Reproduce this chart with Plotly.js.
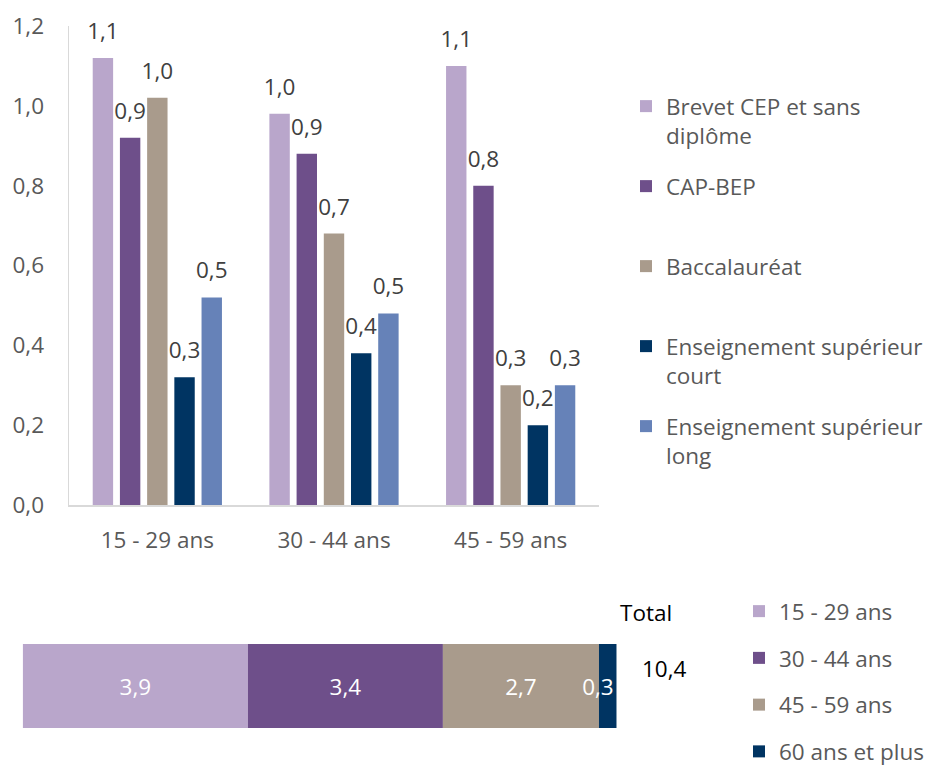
<!DOCTYPE html>
<html><head><meta charset="utf-8">
<script src="https://cdn.plot.ly/plotly-3.0.1.min.js"></script>
<style>html,body{margin:0;padding:0;background:#fff}#chart{width:930px;height:769px}</style>
</head><body><div id="chart"></div>
<script>
// ---- Data: top grouped bar chart ----
const ageGroups = ['15 - 29 ans', '30 - 44 ans', '45 - 59 ans'];
const seriesNames = ['Brevet CEP et sans<br>diplôme', 'CAP-BEP', 'Baccalauréat', 'Enseignement supérieur<br>court', 'Enseignement supérieur<br>long'];
const brevetValues = [1.12, 0.98, 1.10];
const capBepValues = [0.92, 0.88, 0.80];
const bacValues = [1.02, 0.68, 0.30];
const supCourtValues = [0.32, 0.38, 0.20];
const supLongValues = [0.52, 0.48, 0.30];
const seriesColors = ['#B9A6CB', '#6E4F8A', '#A99B8C', '#003462', '#6682B8'];

// ---- Data: bottom stacked total bar ----
const totalCategory = 'Total';
const totalAgeGroups = ['15 - 29 ans', '30 - 44 ans', '45 - 59 ans', '60 ans et plus'];
const totalValues = [3.94, 3.41, 2.73, 0.31];
const totalColors = ['#B9A6CB', '#6E4F8A', '#A99B8C', '#003462'];

const FONT = 'Open Sans, Segoe UI, sans-serif';
const FS = 22.5;
const fmt = v => v.toFixed(1).replace('.', ',');
const padName = n => n.indexOf('<br>') >= 0 ? n : n + '<br>&nbsp;';

const topValues = [brevetValues, capBepValues, bacValues, supCourtValues, supLongValues];
const traces = topValues.map((vals, i) => ({
  type: 'bar', x: ageGroups, y: vals, name: padName(seriesNames[i]),
  marker: {color: seriesColors[i]},
  texttemplate: '%{y:.1f}', textposition: 'outside', cliponaxis: false, constraintext: 'none', textangle: 0,
  textfont: {family: FONT, size: FS, color: '#404040'},
  legend: 'legend', legendgroup: 'top' + i,
  xaxis: 'x', yaxis: 'y', hoverinfo: 'skip'
}));

let cum = 0;
totalValues.forEach((v, i) => {
  traces.push({
    type: 'bar', orientation: 'h', y: [totalCategory], x: [v], base: [cum],
    width: 1, offset: -0.5, name: totalAgeGroups[i],
    marker: {color: totalColors[i]},
    texttemplate: '%{value:.1f}', textposition: 'inside', textangle: 0,
    insidetextanchor: i === totalValues.length - 1 ? 'end' : 'middle',
    constraintext: 'none', cliponaxis: false,
    textfont: {family: FONT, size: FS, color: '#FFFFFF'},
    legend: 'legend2', legendgroup: 'bot' + i,
    xaxis: 'x2', yaxis: 'y2', hoverinfo: 'skip'
  });
  cum += v;
});
const grandTotal = cum;

const layout = {
  width: 930, height: 769,
  margin: {l: 0, r: 0, t: 0, b: 0, autoexpand: false},
  paper_bgcolor: '#FFFFFF', plot_bgcolor: 'rgba(0,0,0,0)',
  separators: ', ',
  barmode: 'group', bargap: 0.23, bargroupgap: 0.25,
  font: {family: FONT, size: FS, color: '#595959'},
  showlegend: true,
  xaxis: {domain: [69/930, 599/930], anchor: 'y', showline: true, linecolor: '#D9D9D9', linewidth: 1.5,
          ticks: '', ticklabelstandoff: 14, tickfont: {family: FONT, size: FS, color: '#595959'}, fixedrange: true},
  yaxis: {domain: [1 - 505/769, 1 - 26/769], anchor: 'x', range: [0, 1.2], dtick: 0.2, tickformat: '.1f',
          showline: true, linecolor: '#D9D9D9', linewidth: 1.5, showgrid: false, zeroline: false, ticks: '',
          ticklabelstandoff: 19, tickfont: {family: FONT, size: FS, color: '#595959'}, fixedrange: true},
  xaxis2: {domain: [22.7/930, 616.7/930], anchor: 'y2', range: [0, grandTotal], visible: false, fixedrange: true},
  yaxis2: {domain: [1 - 728/769, 1 - 644/769], anchor: 'x2', type: 'category', range: [-0.5, 0.5], visible: false, fixedrange: true},
  legend: {x: 626/930, xanchor: 'left', y: 1 - 85/769, yanchor: 'top', valign: 'top',
           traceorder: 'grouped', tracegroupgap: 18.5, bgcolor: 'rgba(0,0,0,0)',
           font: {family: FONT, size: FS, color: '#595959'}},
  legend2: {x: 739/930, xanchor: 'left', y: 1 - 590/769, yanchor: 'top', valign: 'middle',
            traceorder: 'grouped', tracegroupgap: 14.5, bgcolor: 'rgba(0,0,0,0)',
            font: {family: FONT, size: FS, color: '#595959'}},
  annotations: [
    {xref: 'paper', yref: 'paper', x: 646/930, y: 1 - 612/769, xanchor: 'center', yanchor: 'middle',
     text: totalCategory, showarrow: false, font: {family: FONT, size: FS, color: '#000000'}},
    {xref: 'x2', yref: 'y2', x: grandTotal, y: totalCategory, xanchor: 'left', xshift: 23, yshift: 18,
     text: fmt(grandTotal), showarrow: false, font: {family: FONT, size: FS, color: '#000000'}}
  ]
};

Plotly.newPlot('chart', traces, layout, {staticPlot: true, displayModeBar: false}).then(gd => {
  // lift the outside value labels of the top chart a little, as in the original
  gd.querySelectorAll('.subplot.xy .bars .bartext').forEach(t => {
    const tr = t.getAttribute('transform') || '';
    t.setAttribute('transform', 'translate(0,-9) ' + tr);
  });
});
</script>
</body></html>
